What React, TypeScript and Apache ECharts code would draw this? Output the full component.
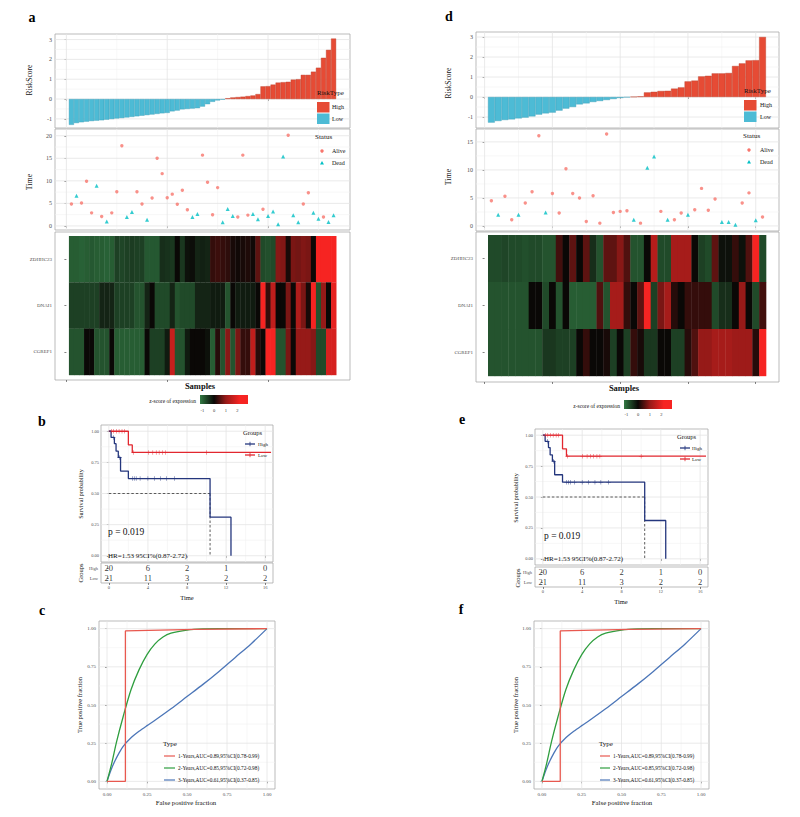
import React, { useEffect, useRef } from 'react';
import * as echarts from 'echarts';

const SERIF = '"Liberation Serif", "DejaVu Serif", serif';
const HIGH_COLOR = '#E64B35';
const LOW_COLOR = '#4DBBD5';
const ALIVE_COLOR = '#F8766D';
const DEAD_COLOR = '#00BFC4';
const KM_HIGH = '#24367d';
const KM_LOW = '#e2272f';
const ROC_COLORS = ['#E8584F', '#2E9E3E', '#4C76B8'];

// ---------------- Panel a (training set, 53 samples) ----------------
const aLowScores = [-1.30, -1.21, -1.17, -1.14, -1.11, -1.09, -1.07, -1.04, -1.01, -0.98, -0.96, -0.93, -0.90, -0.87, -0.84, -0.81, -0.78, -0.75, -0.72, -0.70, -0.62, -0.58, -0.52, -0.50, -0.48, -0.46, -0.38, -0.26, -0.14, -0.07, -0.03];
const aHighScores = [0.04, 0.08, 0.10, 0.12, 0.15, 0.18, 0.25, 0.64, 0.65, 0.73, 0.83, 0.85, 0.87, 0.98, 1.00, 1.22, 1.22, 1.38, 1.58, 2.08, 2.48, 3.05];
const aTimes = [4.85, 6.7, 5.1, 9.9, 2.9, 8.9, 2.1, 1.0, 2.9, 7.6, 17.8, 2.0, 3.1, 7.6, 4.85, 1.4, 6.2, 15.0, 11.6, 6.25, 7.05, 4.8, 7.9, 3.6, 2.0, 2.65, 15.7, 9.7, 2.5, 8.5, 0.8, 3.75, 2.2, 2.0, 15.7, 2.4, 2.65, 1.5, 3.7, 2.2, 3.2, 0.4, 15.4, 20.1, 2.35, 0.8, 4.85, 7.35, 2.9, 1.6, 2.0, 0.9, 2.35];
const aStatus = [0, 1, 0, 0, 0, 1, 0, 1, 0, 0, 0, 1, 1, 0, 0, 1, 0, 0, 0, 0, 0, 0, 0, 0, 1, 1, 0, 0, 0, 0, 1, 1, 1, 0, 0, 0, 1, 1, 0, 1, 1, 1, 1, 0, 1, 1, 0, 0, 1, 1, 0, 1, 1];
const genes = ['ZDHHC23', 'DNAI1', 'CGREF1'];
const aZDHHC23 = [-0.9, -0.9, -0.95, -0.9, -0.85, -0.9, -0.9, -0.95, -0.9, -0.6, -0.65, -0.6, -0.55, -0.6, -0.6, -0.85, -0.85, -0.85, -0.4, -0.45, -0.5, 0, -0.5, -0.1, -0.05, -0.3, -0.25, -0.3, 0.3, 0.35, 0.3, 0.25, 0.1, 0.05, 0.1, 0.15, 0.05, 0.6, -0.7, -0.75, -0.7, 0.9, 0.85, 0.1, 0.8, 0.75, 0.85, 0.8, 0, 2.2, 2.3, 2.4, 2.3];
const aDNAI1 = [-0.6, -0.6, -0.6, -0.6, -0.6, -0.6, -0.3, -0.3, -0.3, -0.6, -0.6, -0.6, -0.6, -0.8, -0.8, -0.3, 0, -0.7, -0.7, -0.7, -0.3, -0.8, -0.7, -0.7, -0.7, -0.3, -0.3, -0.3, -0.2, -0.2, -0.2, -0.8, 0, -0.2, -0.2, -0.2, -0.2, 0, 2.3, 0.3, 1.5, 0, 0, 0.8, 0, 1.3, 0.8, 0.1, 2.3, -0.8, 1.0, 0, 2.0];
const aCGREF1 = [-0.8, -0.8, -0.8, 0, 0, -0.8, -0.8, -0.8, 0, -0.9, -0.9, -0.9, -0.9, -0.9, -0.9, 0, -0.6, -0.6, -0.6, -0.2, 1.6, -0.8, -0.8, -0.2, 0, 0, 0, -0.1, -0.9, 0.2, -0.8, 0.9, -0.8, 0.8, 0.3, 0.3, 1.5, 0.2, 0, 2.2, 2.2, -0.8, -0.8, 0.8, 0, 1.0, 1.0, 1.0, 0.9, -0.7, -0.7, 1.8, 1.8];

// ---------------- Panel d (validation set, 41 samples) ----------------
const dLowScores = [-1.28, -1.20, -1.15, -1.12, -1.07, -1.03, -0.97, -0.88, -0.82, -0.78, -0.68, -0.58, -0.50, -0.37, -0.32, -0.25, -0.20, -0.15, -0.10, -0.05, -0.02];
const dHighScores = [0.01, 0.03, 0.23, 0.26, 0.30, 0.31, 0.42, 0.48, 0.78, 0.82, 1.03, 1.06, 1.18, 1.18, 1.20, 1.55, 1.68, 1.83, 1.84, 3.0];
const dTimes = [4.5, 2.0, 5.3, 1.1, 2.0, 4.1, 6.1, 16.1, 2.4, 5.8, 2.3, 10.2, 5.8, 5.0, 0.8, 5.4, 0.5, 16.4, 2.4, 2.6, 2.7, 1.1, 0.5, 10.4, 12.4, 2.6, 1.1, 1.1, 2.3, 2.0, 2.9, 6.7, 2.8, 4.8, 0.7, 0.7, 0.2, 4.1, 5.9, 1.0, 1.6];
const dStatus = [0, 1, 0, 0, 1, 0, 0, 0, 1, 0, 0, 0, 0, 0, 0, 0, 0, 0, 0, 0, 0, 1, 0, 1, 1, 0, 1, 0, 0, 1, 0, 0, 0, 0, 1, 1, 1, 0, 0, 1, 0];
const dZDHHC23 = [-0.7, -0.7, -0.65, -0.7, -0.7, -0.75, -0.7, -0.7, -0.8, -0.8, 0.4, 0, 0.6, 0, 0.6, -0.4, -0.8, 0.6, 0.6, 0.9, 0.5, -0.8, -0.8, 0, 1.4, -0.7, -0.7, 1.2, 1.2, 1.2, 0, -0.6, -0.7, 0.6, -0.1, -0.1, 0.3, -0.1, 0.5, 2.4, -0.7];
const dDNAI1 = [-0.8, -0.8, -0.8, -0.8, -0.8, -0.8, 0, 0, -0.7, 0, -0.8, 0, -0.9, -0.9, -0.9, -0.9, 0.5, -0.8, 1.2, 1.2, 0.3, 0, 0.6, 2.3, -0.6, 0.8, 1.2, 0.2, 0, 0.3, 0.3, 0.3, 0.3, -0.7, -0.4, -0.4, 0, 1.0, 0, -0.7, 0.4];
const dCGREF1 = [-0.8, -0.8, -0.8, -0.8, -0.8, -0.8, -0.8, -0.8, -0.5, -0.5, -0.6, -0.6, -0.6, 0, 0.3, 0, 0, 0.1, -0.6, 0, -0.6, 0.3, 0.1, -0.5, -0.5, 0, 0, -0.6, -0.6, 0.2, 0.5, 1.0, 1.0, 1.2, 1.2, 1.2, 1.1, 1.1, 1.1, 0.2, 2.4];

// ---------------- Panels b / e (Kaplan-Meier) ----------------
const kmHighT = [0, 0.23, 0.57, 0.74, 0.97, 1.2, 2.0, 10.36, 12.5];
const kmHighS = [1, 0.95, 0.90, 0.84, 0.79, 0.68, 0.62, 0.31, 0];
const kmLowT = [0, 2.0, 2.4, 16.6];
const kmLowS = [1, 0.89, 0.83, 0.83];
const kmHighCensor = [0.46, 1.1, 2.4, 2.6, 2.8, 3.2, 4.0, 4.65, 5.3, 5.9, 6.7];
const kmLowCensor = [0.26, 0.5, 0.77, 1.05, 1.35, 1.6, 2.5, 4.05, 4.5, 4.85, 5.15, 5.5, 5.8, 10.0];
const riskTimes = [0, 4, 8, 12, 16];
const riskHigh = [20, 6, 2, 1, 0];
const riskLow = [21, 11, 3, 2, 2];

// ---------------- Panels c / f (ROC) ----------------
const roc1 = [[0, 0], [0.115, 0], [0.115, 0.985], [0.55, 0.995], [1, 1]];
const roc2 = [[0, 0], [0.03, 0.12], [0.06, 0.26], [0.1, 0.42], [0.15, 0.6], [0.2, 0.73], [0.25, 0.83], [0.3, 0.9], [0.35, 0.945], [0.4, 0.97], [0.5, 0.99], [0.6, 0.998], [0.7, 1], [1, 1]];
const roc3 = [[0, 0], [0.025, 0.075], [0.05, 0.135], [0.075, 0.185], [0.1, 0.228], [0.15, 0.285], [0.2, 0.328], [0.25, 0.365], [0.3, 0.4], [0.4, 0.475], [0.5, 0.555], [0.6, 0.635], [0.7, 0.72], [0.8, 0.81], [0.9, 0.9], [1, 1]];
const rocLabels = ['1-Years,AUC=0.89,95%CI(0.78-0.99)', '2-Years,AUC=0.85,95%CI(0.72-0.98)', '3-Years,AUC=0.61,95%CI(0.37-0.85)'];

const quarterTicks = [0, 0.25, 0.5, 0.75, 1];
const quarterMinor = [0.125, 0.375, 0.625, 0.875];

// ---------------- helpers ----------------
const HEAT_STOPS: [number, number[]][] = [
  [-1.2, [52, 122, 68]],
  [-1, [42, 102, 56]],
  [0, [10, 8, 6]],
  [1, [150, 26, 24]],
  [2.2, [246, 36, 34]],
];
function zColor(z: number) {
  if (z <= HEAT_STOPS[0][0]) return `rgb(${HEAT_STOPS[0][1].join(',')})`;
  for (let i = 1; i < HEAT_STOPS.length; i++) {
    const [z1, c1] = HEAT_STOPS[i];
    const [z0, c0] = HEAT_STOPS[i - 1];
    if (z <= z1) {
      const t = (z - z0) / (z1 - z0);
      const c = c0.map((v, k) => Math.round(v + (c1[k] - v) * t));
      return `rgb(${c.join(',')})`;
    }
  }
  return `rgb(${HEAT_STOPS[HEAT_STOPS.length - 1][1].join(',')})`;
}

function vAxis(gridIndex: number, min: number, max: number, ticks: number[], o: any = {}) {
  return {
    type: 'value', gridIndex, min, max,
    axisLine: { show: false },
    axisTick: { show: true, length: 2, customValues: ticks, lineStyle: { color: '#333', width: 0.6 } },
    axisLabel: {
      show: o.labels !== false, customValues: ticks, formatter: o.fmt,
      fontSize: o.size || 6, fontFamily: SERIF, color: '#4d4d4d', margin: o.margin ?? 3,
    },
    splitLine: { show: false },
    minorSplitLine: { show: false },
  };
}

function gridLines(gi: number, xMaj: number[], xMin: number[], yMaj: number[], yMin: number[], xRef: number, yRef: number) {
  const data: number[][] = [];
  xMin.forEach((v) => data.push([v, 0, 0]));
  yMin.forEach((v) => data.push([v, 1, 0]));
  xMaj.forEach((v) => data.push([v, 0, 1]));
  yMaj.forEach((v) => data.push([v, 1, 1]));
  return {
    type: 'custom', xAxisIndex: gi, yAxisIndex: gi, silent: true, z: 1,
    data,
    encode: { x: -1, y: -1 } as any,
    renderItem: (params: any, api: any) => {
      const cs = params.coordSys;
      const v = api.value(0), o = api.value(1), m = api.value(2);
      const stroke = m ? '#e4e4e4' : '#f2f2f2';
      if (o === 0) {
        const px = api.coord([v, yRef])[0];
        return { type: 'line', shape: { x1: px, y1: cs.y, x2: px, y2: cs.y + cs.height }, style: { stroke, lineWidth: m ? 0.8 : 0.6 } };
      }
      const py = api.coord([xRef, v])[1];
      return { type: 'line', shape: { x1: cs.x, y1: py, x2: cs.x + cs.width, y2: py }, style: { stroke, lineWidth: m ? 0.8 : 0.6 } };
    },
  };
}

function riskBars(gi: number, low: number[], high: number[]) {
  const data = [
    ...low.map((v, i) => ({ value: [i + 1, v], itemStyle: { color: LOW_COLOR, borderColor: '#3c9db5' } })),
    ...high.map((v, i) => ({ value: [low.length + i + 1, v], itemStyle: { color: HIGH_COLOR, borderColor: '#b8402c' } })),
  ];
  return { type: 'bar', xAxisIndex: gi, yAxisIndex: gi, data, barWidth: '100%', itemStyle: { borderWidth: 0.4 }, silent: true, z: 3 };
}

function statusScatter(gi: number, times: number[], status: number[]) {
  const alive: number[][] = [];
  const dead: number[][] = [];
  times.forEach((t, i) => (status[i] === 0 ? alive : dead).push([i + 1, t]));
  return [
    { type: 'scatter', xAxisIndex: gi, yAxisIndex: gi, data: alive, symbol: 'circle', symbolSize: 3.4, itemStyle: { color: ALIVE_COLOR }, silent: true, z: 3 },
    { type: 'scatter', xAxisIndex: gi, yAxisIndex: gi, data: dead, symbol: 'triangle', symbolSize: 4, itemStyle: { color: DEAD_COLOR }, silent: true, z: 3 },
  ];
}

function heatSeries(gi: number, rows: number[][]) {
  const data: number[][] = [];
  rows.forEach((vals, r) => vals.forEach((z, c) => data.push([c + 1, rows.length - r, z])));
  return {
    type: 'custom', xAxisIndex: gi, yAxisIndex: gi, data, silent: true, z: 3,
    renderItem: (_p: any, api: any) => {
      const x = api.value(0), y = api.value(1), z = api.value(2);
      const p0 = api.coord([x - 0.5, y + 0.5]);
      const p1 = api.coord([x + 0.5, y - 0.5]);
      return { type: 'rect', shape: { x: p0[0], y: p0[1], width: p1[0] - p0[0] + 0.4, height: p1[1] - p0[1] + 0.2 }, style: { fill: zColor(z) } };
    },
  };
}

function survAt(T: number[], S: number[], t: number) {
  let s = S[0];
  for (let i = 0; i < T.length; i++) if (T[i] <= t) s = S[i];
  return s;
}
const PLUS = 'path://M-0.12,-1H0.12V-0.12H1V0.12H0.12V1H-0.12V0.12H-1V-0.12H-0.12Z';

function kmSeries(gi: number) {
  const medIdx = kmHighS.findIndex((s) => s <= 0.5);
  const medT = kmHighT[medIdx];
  return [
    { type: 'line', xAxisIndex: gi, yAxisIndex: gi, data: [[0, 0.5], [medT, 0.5]], showSymbol: false, silent: true, lineStyle: { color: '#333', width: 0.8, type: [2.5, 2] }, z: 2 },
    { type: 'line', xAxisIndex: gi, yAxisIndex: gi, data: [[medT, 0.5], [medT, 0]], showSymbol: false, silent: true, lineStyle: { color: '#333', width: 0.8, type: [2.5, 2] }, z: 2 },
    { type: 'line', xAxisIndex: gi, yAxisIndex: gi, step: 'end', data: kmLowT.map((t, i) => [t, kmLowS[i]]), showSymbol: false, silent: true, lineStyle: { color: KM_LOW, width: 1.3 }, z: 3 },
    { type: 'line', xAxisIndex: gi, yAxisIndex: gi, step: 'end', data: kmHighT.map((t, i) => [t, kmHighS[i]]), showSymbol: false, silent: true, lineStyle: { color: KM_HIGH, width: 1.3 }, z: 4 },
    { type: 'scatter', xAxisIndex: gi, yAxisIndex: gi, data: kmLowCensor.map((t) => [t, survAt(kmLowT, kmLowS, t)]), symbol: PLUS, symbolSize: 4.5, itemStyle: { color: KM_LOW }, silent: true, z: 5 },
    { type: 'scatter', xAxisIndex: gi, yAxisIndex: gi, data: kmHighCensor.map((t) => [t, survAt(kmHighT, kmHighS, t)]), symbol: PLUS, symbolSize: 4.5, itemStyle: { color: KM_HIGH }, silent: true, z: 5 },
  ];
}

function tableSeries(gi: number) {
  const data: any[] = [];
  riskTimes.forEach((t, i) => {
    data.push([t, 'High', riskHigh[i]]);
    data.push([t, 'Low', riskLow[i]]);
  });
  return {
    type: 'scatter', xAxisIndex: gi, yAxisIndex: gi, data, symbolSize: 0, silent: true,
    label: { show: true, position: 'inside', formatter: (p: any) => String(p.value[2]), fontSize: 8.5, fontFamily: SERIF, color: '#000' },
  };
}

function rocSeries(gi: number) {
  return [roc3, roc2, roc1].map((d, k) => ({
    type: 'line', xAxisIndex: gi, yAxisIndex: gi, data: d, showSymbol: false, silent: true,
    smooth: k === 2 ? false : 0.3,
    lineStyle: { color: ROC_COLORS[2 - k], width: 1.3 }, z: 3 + k,
  }));
}

// graphic helpers
function txt(text: string, x: number, y: number, size: number, o: any = {}) {
  const align = o.align || 'left';
  return {
    type: 'text', x, y, rotation: o.rot || 0, silent: true, z: 100,
    style: {
      text, fontSize: size, fontFamily: SERIF, fontWeight: o.bold ? 'bold' : 'normal', fill: o.color || '#111',
      textAlign: align, align, textVerticalAlign: 'middle', verticalAlign: 'middle',
    },
  };
}
const vtxt = (text: string, x: number, y: number, size: number) => txt(text, x, y, size, { rot: Math.PI / 2, align: 'center' });

function colorBar(x: number, y: number, textRight: number, textY: number, labelY: number) {
  const zMin = -1.2, zMax = 2.9, w = 48;
  const stops = HEAT_STOPS.map(([z]) => ({ offset: (z - zMin) / (zMax - zMin), color: zColor(z) }));
  stops.push({ offset: 1, color: zColor(zMax) });
  const els: any[] = [
    { type: 'rect', shape: { x, y, width: w, height: 9 }, style: { fill: new echarts.graphic.LinearGradient(0, 0, 1, 0, stops) }, silent: true, z: 100 },
    txt('z-score of expression', textRight, textY, 5.5, { align: 'right' }),
  ];
  [-1, 0, 1, 2].forEach((v) => els.push(txt(String(v), x + ((v - zMin) / (zMax - zMin)) * w, labelY, 4.5, { align: 'center', color: '#333' })));
  return els;
}

function riskLegend(x: number, y: number, tx: number) {
  return [
    txt('RiskType', x, y, 7),
    { type: 'rect', shape: { x, y: y + 9, width: 12.5, height: 10.5 }, style: { fill: HIGH_COLOR }, silent: true, z: 100 },
    { type: 'rect', shape: { x, y: y + 20.5, width: 12.5, height: 10.5 }, style: { fill: LOW_COLOR }, silent: true, z: 100 },
    txt('High', tx, y + 14, 6),
    txt('Low', tx, y + 25.5, 6),
  ];
}
function statusLegend(x: number, y: number, kx: number, tx: number) {
  return [
    txt('Status', x, y, 7),
    { type: 'circle', shape: { cx: kx, cy: y + 14, r: 1.7 }, style: { fill: ALIVE_COLOR }, silent: true, z: 100 },
    { type: 'polygon', shape: { points: [[kx, y + 24], [kx - 2, y + 27.5], [kx + 2, y + 27.5]] }, style: { fill: DEAD_COLOR }, silent: true, z: 100 },
    txt('Alive', tx, y + 14, 6),
    txt('Dead', tx, y + 26, 6),
  ];
}
function groupsLegend(x: number, y: number, kx: number, tx: number) {
  const key = (cy: number, color: string) => [
    { type: 'line', shape: { x1: kx, y1: cy, x2: kx + 10, y2: cy }, style: { stroke: color, lineWidth: 1.3 }, silent: true, z: 100 },
    { type: 'line', shape: { x1: kx + 5, y1: cy - 2.2, x2: kx + 5, y2: cy + 2.2 }, style: { stroke: color, lineWidth: 0.8 }, silent: true, z: 100 },
  ];
  return [
    txt('Groups', x, y, 6.5),
    ...key(y + 12, KM_HIGH), ...key(y + 23, KM_LOW),
    txt('High', tx, y + 12, 5),
    txt('Low', tx, y + 23, 5),
  ];
}
function typeLegend(x: number, y: number, kx: number, kw: number, tx: number) {
  const els: any[] = [txt('Type', x, y, 7)];
  rocLabels.forEach((lab, i) => {
    const cy = y + 12 + i * 12;
    els.push({ type: 'line', shape: { x1: kx, y1: cy, x2: kx + kw, y2: cy }, style: { stroke: ROC_COLORS[i], lineWidth: 1.2 }, silent: true, z: 100 });
    els.push(txt(lab, tx, cy, 5.3));
  });
  return els;
}

function buildOption() {
  const grids = [
    { left: 55, top: 34, width: 295, height: 94 },   // 0 a risk
    { left: 55, top: 129, width: 295, height: 101 }, // 1 a time
    { left: 55, top: 232, width: 295, height: 148 }, // 2 a heat
    { left: 476, top: 32, width: 303, height: 96 },  // 3 d risk
    { left: 476, top: 129, width: 303, height: 102 },// 4 d time
    { left: 476, top: 232, width: 303, height: 150 },// 5 d heat
    { left: 101, top: 425, width: 172, height: 137 },// 6 b km
    { left: 101, top: 563, width: 172, height: 20 }, // 7 b table
    { left: 99, top: 621, width: 176, height: 168 }, // 8 c roc
    { left: 535, top: 429, width: 173, height: 136 },// 9 e km
    { left: 535, top: 567, width: 173, height: 20 }, // 10 e table
    { left: 534, top: 621, width: 175, height: 168 },// 11 f roc
  ].map((g) => ({ ...g, show: true, borderColor: '#aaaaaa', borderWidth: 0.8, containLabel: false }));

  const aX = [-2.26, 56.26], dX = [-1.27, 43.43], kmX = [-0.8, 16.8], pr = [-0.05, 1.05];
  const aTicks = [0, 20, 40], dTicks = [0, 10, 20, 30, 40];
  const geneFmt = (v: number) => genes[3 - Math.round(v)] || '';
  const q = (v: number) => v.toFixed(2);

  const xAxis = [
    vAxis(0, aX[0], aX[1], aTicks, { labels: false }),
    vAxis(1, aX[0], aX[1], aTicks, { labels: false }),
    vAxis(2, aX[0], aX[1], aTicks, { labels: false }),
    vAxis(3, dX[0], dX[1], dTicks, { labels: false }),
    vAxis(4, dX[0], dX[1], dTicks, { labels: false }),
    vAxis(5, dX[0], dX[1], dTicks, { labels: false }),
    vAxis(6, kmX[0], kmX[1], riskTimes, { labels: false }),
    vAxis(7, kmX[0], kmX[1], riskTimes, { size: 4.5, margin: 2 }),
    vAxis(8, pr[0], pr[1], quarterTicks, { size: 5, fmt: q, margin: 3 }),
    vAxis(9, kmX[0], kmX[1], riskTimes, { labels: false }),
    vAxis(10, kmX[0], kmX[1], riskTimes, { size: 4.5, margin: 2 }),
    vAxis(11, pr[0], pr[1], quarterTicks, { size: 5, fmt: q, margin: 3 }),
  ];
  const tableY = (gi: number) => ({
    type: 'category', gridIndex: gi, data: ['Low', 'High'],
    axisLine: { show: false },
    axisTick: { show: true, length: 2, alignWithLabel: true, lineStyle: { color: '#333', width: 0.6 } },
    axisLabel: { fontSize: 4.5, fontFamily: SERIF, color: '#4d4d4d', margin: 3 },
    splitLine: { show: false },
  });
  const yAxis = [
    vAxis(0, -1.46, 3.28, [-1, 0, 1, 2, 3]),
    vAxis(1, -0.9, 21.5, [0, 5, 10, 15, 20]),
    vAxis(2, 0.392, 3.586, [1, 2, 3], { fmt: geneFmt, size: 5 }),
    vAxis(3, -1.55, 3.25, [-1, 0, 1, 2, 3]),
    vAxis(4, -0.9, 17.3, [0, 5, 10, 15]),
    vAxis(5, 0.372, 3.564, [1, 2, 3], { fmt: geneFmt, size: 5 }),
    vAxis(6, pr[0], pr[1], quarterTicks, { fmt: q, size: 4.5, margin: 2 }),
    tableY(7),
    vAxis(8, pr[0], pr[1], quarterTicks, { fmt: q, size: 5 }),
    vAxis(9, pr[0], pr[1], quarterTicks, { fmt: q, size: 4.5, margin: 2 }),
    tableY(10),
    vAxis(11, pr[0], pr[1], quarterTicks, { fmt: q, size: 5 }),
  ];

  const series: any[] = [
    gridLines(0, aTicks, [10, 30, 50], [-1, 0, 1, 2, 3], [-0.5, 0.5, 1.5, 2.5], 0, 0),
    gridLines(1, aTicks, [10, 30, 50], [0, 5, 10, 15, 20], [2.5, 7.5, 12.5, 17.5], 0, 0),
    gridLines(3, dTicks, [5, 15, 25, 35], [-1, 0, 1, 2, 3], [-0.5, 0.5, 1.5, 2.5], 0, 0),
    gridLines(4, dTicks, [5, 15, 25, 35], [0, 5, 10, 15], [2.5, 7.5, 12.5], 0, 0),
    gridLines(6, riskTimes, [2, 6, 10, 14], quarterTicks, quarterMinor, 0, 0),
    gridLines(9, riskTimes, [2, 6, 10, 14], quarterTicks, quarterMinor, 0, 0),
    gridLines(8, quarterTicks, quarterMinor, quarterTicks, quarterMinor, 0, 0),
    gridLines(11, quarterTicks, quarterMinor, quarterTicks, quarterMinor, 0, 0),
    riskBars(0, aLowScores, aHighScores),
    ...statusScatter(1, aTimes, aStatus),
    heatSeries(2, [aZDHHC23, aDNAI1, aCGREF1]),
    riskBars(3, dLowScores, dHighScores),
    ...statusScatter(4, dTimes, dStatus),
    heatSeries(5, [dZDHHC23, dDNAI1, dCGREF1]),
    ...kmSeries(6),
    tableSeries(7),
    ...rocSeries(8),
    ...kmSeries(9),
    tableSeries(10),
    ...rocSeries(11),
  ];

  const graphic: any[] = [
    // panel letters
    txt('a', 32, 17, 14, { bold: true, align: 'center', color: '#000' }),
    txt('d', 449, 16, 14, { bold: true, align: 'center', color: '#000' }),
    txt('b', 42, 421, 14, { bold: true, align: 'center', color: '#000' }),
    txt('e', 462, 419, 14, { bold: true, align: 'center', color: '#000' }),
    txt('c', 42, 610, 14, { bold: true, align: 'center', color: '#000' }),
    txt('f', 461, 609, 14, { bold: true, align: 'center', color: '#000' }),
    // panel a
    vtxt('RiskScore', 29, 80, 7.5),
    vtxt('Time', 29, 182, 8),
    ...riskLegend(317, 93, 332),
    ...statusLegend(315, 137, 322, 332),
    txt('Samples', 200, 386, 8.5, { align: 'center', bold: true }),
    ...colorBar(200, 395, 196, 401, 410),
    // panel d
    vtxt('RiskScore', 448, 83, 7.5),
    vtxt('Time', 448, 177, 8),
    ...riskLegend(744, 91, 760),
    ...statusLegend(743, 136, 749, 760),
    txt('Samples', 624, 388, 8.5, { align: 'center', bold: true }),
    ...colorBar(624, 400, 620, 406, 414),
    // panel b
    vtxt('Survival probability', 80, 494, 6.2),
    ...groupsLegend(243, 432, 245, 258),
    txt('p = 0.019', 108, 532, 9.5),
    txt('HR=1.53 95CI%(0.87-2.72)', 108, 556, 7),
    vtxt('Groups', 80, 573, 6.5),
    txt('Time', 187, 597, 6.5, { align: 'center' }),
    // panel e
    vtxt('Survival probability', 515, 498, 6.2),
    ...groupsLegend(677, 436, 680, 692),
    txt('p = 0.019', 544, 536, 9.5),
    txt('HR=1.53 95CI%(0.87-2.72)', 544, 559, 7),
    vtxt('Groups', 517, 578, 6.5),
    txt('Time', 621, 601, 6.5, { align: 'center' }),
    // panel c
    vtxt('True positive fraction', 79, 705, 6.5),
    txt('False positive fraction', 186, 802, 6.8, { align: 'center' }),
    ...typeLegend(163, 744, 164, 11, 178),
    // panel f
    vtxt('True positive fraction', 515, 705, 6.5),
    txt('False positive fraction', 622, 802, 6.8, { align: 'center' }),
    ...typeLegend(599, 744, 600, 10, 613),
  ];

  return { animation: false, backgroundColor: '#ffffff', grid: grids, xAxis, yAxis, series, graphic };
}

export default function App() {
  const ref = useRef<HTMLDivElement>(null);
  useEffect(() => {
    const chart = echarts.init(ref.current!, undefined, { renderer: 'svg', width: 800, height: 817 });
    chart.setOption(buildOption() as any);
    return () => chart.dispose();
  }, []);
  return <div ref={ref} style={{ position: 'absolute', left: 0, top: 0, width: 800, height: 817, background: '#fff' }} />;
}
